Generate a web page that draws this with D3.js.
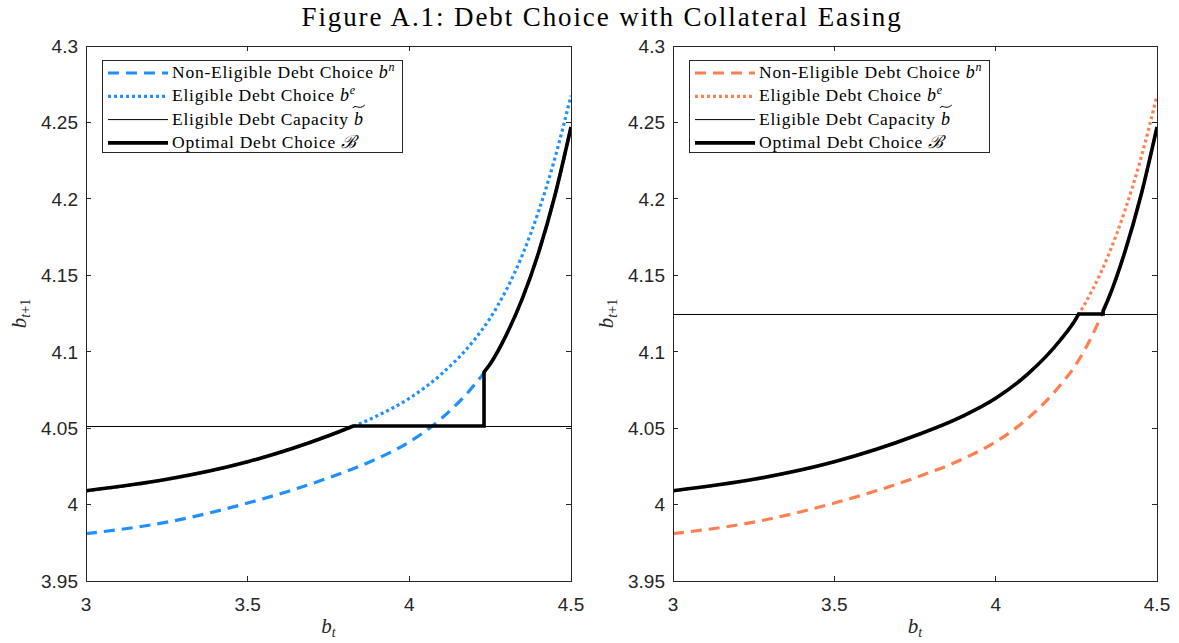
<!DOCTYPE html>
<html>
<head>
<meta charset="utf-8">
<script src="https://cdn.jsdelivr.net/npm/d3@7"></script>
<style>
  html, body { margin: 0; padding: 0; background: #fff; }
  svg { display: block; }
</style>
</head>
<body>
<svg id="fig" width="1179" height="643"></svg>
<script>
// Grid of current debt b_t and the two policy functions
const bt = [3.0, 3.25, 3.5, 3.75, 3.9, 4.0, 4.1, 4.2, 4.25, 4.3, 4.35, 4.4, 4.45, 4.5];
const eligibleChoice = [4.009, 4.0165, 4.028, 4.045, 4.058, 4.0695, 4.0855, 4.1075, 4.122, 4.1405, 4.1635, 4.192, 4.2265, 4.2675];
const nonEligibleChoice = [3.981, 3.9885, 4.001, 4.0175, 4.030, 4.041, 4.0565, 4.078, 4.092, 4.111, 4.135, 4.165, 4.202, 4.247];

// Eligible debt capacity in each panel
const capacityLeft = 4.0514;
const capacityRight = 4.1247;

// Optimal debt choice per panel
const optimalLeftX = [3.0, 3.25, 3.5, 3.75, 3.827, 4.231, 4.231, 4.25, 4.3, 4.35, 4.4, 4.45, 4.5];
const optimalLeftY = [4.009, 4.0165, 4.028, 4.045, 4.0514, 4.0514, 4.0867, 4.092, 4.111, 4.135, 4.165, 4.202, 4.247];
const optimalRightX = [3.0, 3.25, 3.5, 3.75, 3.9, 4.0, 4.1, 4.2, 4.25, 4.257, 4.333, 4.333, 4.35, 4.4, 4.45, 4.5];
const optimalRightY = [4.009, 4.0165, 4.028, 4.045, 4.058, 4.0695, 4.0855, 4.1075, 4.122, 4.1247, 4.1247, 4.1268, 4.135, 4.165, 4.202, 4.247];

// Axes ticks
const xTicks = [3, 3.5, 4, 4.5];
const xTickLabels = ["3", "3.5", "4", "4.5"];
const yTicks = [3.95, 4.0, 4.05, 4.1, 4.15, 4.2, 4.25, 4.3];
const yTickLabels = ["3.95", "4", "4.05", "4.1", "4.15", "4.2", "4.25", "4.3"];

const figureTitle = "Figure A.1: Debt Choice with Collateral Easing";
const seriesColors = { left: "#1e90ff", right: "#ff7f50" };

const svg = d3.select("#fig");
const axisColor = "#262626";
const serif = "'Liberation Serif', 'DejaVu Serif', serif";
const sans = "'Liberation Sans', Arial, sans-serif";

svg.append("text")
  .attr("x", 602).attr("y", 26)
  .attr("text-anchor", "middle")
  .attr("font-family", serif)
  .attr("font-size", 27)
  .attr("letter-spacing", 1.9)
  .attr("fill", "#000")
  .text(figureTitle);

const plotTop = 46, plotBottom = 581;
const smooth = d3.curveMonotoneX;

// Build a path that uses smooth curves on sloped runs and straight pieces on
// flat or vertical segments.
function piecewisePath(xs, ys, x, y) {
  const pts = xs.map((v, i) => [x(v), y(ys[i])]);
  const isStraight = i => xs[i] === xs[i + 1] || ys[i] === ys[i + 1];
  let d = "";
  let i = 0;
  while (i < pts.length - 1) {
    const kind = isStraight(i);
    let j = i;
    while (j < pts.length - 1 && isStraight(j) === kind) j++;
    const run = pts.slice(i, j + 1);
    const gen = d3.line().curve(kind ? d3.curveLinear : smooth);
    let s = gen(run);
    if (d !== "") s = "L" + s.slice(1);
    d += s;
    i = j;
  }
  return d;
}

function drawPanel(opt) {
  const x = d3.scaleLinear().domain([3, 4.5]).range([opt.x0, opt.x1]);
  const y = d3.scaleLinear().domain([3.95, 4.3]).range([plotBottom, plotTop]);
  const g = svg.append("g");

  const clipId = "clip-" + opt.key;
  svg.append("clipPath").attr("id", clipId)
    .append("rect").attr("x", opt.x0).attr("y", plotTop)
    .attr("width", opt.x1 - opt.x0).attr("height", plotBottom - plotTop);

  const plot = g.append("g").attr("clip-path", `url(#${clipId})`);
  const line = d3.line().x(d => x(d[0])).y(d => y(d[1])).curve(smooth);

  // Non-eligible debt choice
  plot.append("path")
    .attr("d", line(bt.map((v, i) => [v, nonEligibleChoice[i]])))
    .attr("fill", "none").attr("stroke", opt.color)
    .attr("stroke-width", 3.2).attr("stroke-dasharray", "11,7");

  // Eligible debt choice
  plot.append("path")
    .attr("d", line(bt.map((v, i) => [v, eligibleChoice[i]])))
    .attr("fill", "none").attr("stroke", opt.color)
    .attr("stroke-width", 3.2).attr("stroke-dasharray", "3,3");

  // Eligible debt capacity
  const cy = Math.round(y(opt.capacity)) + 0.5;
  plot.append("line")
    .attr("x1", x(3)).attr("x2", x(4.5))
    .attr("y1", cy).attr("y2", cy)
    .attr("stroke", "#000").attr("stroke-width", 1);

  // Optimal debt choice
  plot.append("path")
    .attr("d", piecewisePath(opt.optX, opt.optY, x, y))
    .attr("fill", "none").attr("stroke", "#000")
    .attr("stroke-width", 3.6).attr("stroke-linejoin", "miter");

  // Axes box
  g.append("rect")
    .attr("x", opt.x0).attr("y", plotTop)
    .attr("width", opt.x1 - opt.x0).attr("height", plotBottom - plotTop)
    .attr("fill", "none").attr("stroke", axisColor).attr("stroke-width", 1)
    .attr("shape-rendering", "crispEdges");

  const tickLen = 5;
  const axes = g.append("g").attr("stroke", axisColor).attr("stroke-width", 1)
    .attr("shape-rendering", "crispEdges");
  xTicks.forEach(t => {
    axes.append("line").attr("x1", x(t)).attr("x2", x(t)).attr("y1", plotBottom).attr("y2", plotBottom - tickLen);
    axes.append("line").attr("x1", x(t)).attr("x2", x(t)).attr("y1", plotTop).attr("y2", plotTop + tickLen);
  });
  yTicks.forEach(t => {
    axes.append("line").attr("x1", opt.x0).attr("x2", opt.x0 + tickLen).attr("y1", y(t)).attr("y2", y(t));
    axes.append("line").attr("x1", opt.x1).attr("x2", opt.x1 - tickLen).attr("y1", y(t)).attr("y2", y(t));
  });

  g.append("g").selectAll("text").data(xTicks).join("text")
    .attr("x", d => x(d)).attr("y", 611)
    .attr("text-anchor", "middle")
    .attr("font-family", sans).attr("font-size", 19).attr("fill", axisColor)
    .text((d, i) => xTickLabels[i]);

  g.append("g").selectAll("text").data(yTicks).join("text")
    .attr("x", opt.x0 - 8).attr("y", d => y(d))
    .attr("dy", "0.36em")
    .attr("text-anchor", "end")
    .attr("font-family", sans).attr("font-size", 19).attr("fill", axisColor)
    .text((d, i) => yTickLabels[i]);

  // Axis labels
  const xl = g.append("text")
    .attr("x", (opt.x0 + opt.x1) / 2).attr("y", 633)
    .attr("text-anchor", "middle")
    .attr("font-family", serif).attr("font-size", 21).attr("fill", axisColor);
  xl.append("tspan").attr("font-style", "italic").text("b");
  xl.append("tspan").attr("font-style", "italic").attr("font-size", 14).attr("dy", 4).text("t");

  const yl = g.append("text")
    .attr("transform", `translate(${opt.x0 - 60},${(plotTop + plotBottom) / 2}) rotate(-90)`)
    .attr("text-anchor", "middle")
    .attr("font-family", serif).attr("font-size", 21).attr("fill", axisColor);
  yl.append("tspan").attr("font-style", "italic").text("b");
  yl.append("tspan").attr("font-style", "italic").attr("font-size", 14).attr("dy", 4).text("t");
  yl.append("tspan").attr("font-size", 14).text("+1");

  // Legend
  const lx = opt.x0 + 16, ly = 60, lw = 300, lh = 92;
  const leg = g.append("g");
  leg.append("rect").attr("x", lx).attr("y", ly).attr("width", lw).attr("height", lh)
    .attr("fill", "#fff").attr("stroke", axisColor).attr("stroke-width", 1)
    .attr("shape-rendering", "crispEdges");

  const entries = [
    { text: "Non-Eligible Debt Choice ", math: "b", sup: "n", stroke: opt.color, width: 3.2, dash: "11,7" },
    { text: "Eligible Debt Choice ", math: "b", sup: "e", stroke: opt.color, width: 3.2, dash: "3,3" },
    { text: "Eligible Debt Capacity ", math: "b", tilde: true, stroke: "#000", width: 1, dash: null },
    { text: "Optimal Debt Choice ", math: "\u212C", stroke: "#000", width: 3.6, dash: null }
  ];
  entries.forEach((e, i) => {
    const rowY = ly + 13 + i * 23.3;
    leg.append("line")
      .attr("x1", lx + 6).attr("x2", lx + 66)
      .attr("y1", rowY).attr("y2", rowY)
      .attr("stroke", e.stroke).attr("stroke-width", e.width)
      .attr("stroke-dasharray", e.dash);
    const t = leg.append("text")
      .attr("x", lx + 70).attr("y", rowY + 5)
      .attr("font-family", serif).attr("font-size", 17.5)
      .attr("letter-spacing", 0.75).attr("fill", "#000");
    t.append("tspan").text(e.text);
    t.append("tspan").attr("font-style", "italic").attr("font-size", 18).text(e.math);
    if (e.sup) {
      t.append("tspan").attr("font-style", "italic").attr("font-size", 12)
        .attr("dy", -7).text(e.sup);
    }
    if (e.tilde) {
      const len = t.node().getComputedTextLength();
      const bx = lx + 70 + len - 5;
      const ty = rowY - 13;
      leg.append("path")
        .attr("d", `M${bx - 6},${ty + 1.5} C${bx - 3},${ty - 3} ${bx},${ty + 4} ${bx + 6},${ty - 1.5}`)
        .attr("fill", "none").attr("stroke", "#000").attr("stroke-width", 1);
    }
  });
}

drawPanel({ key: "left", x0: 86, x1: 571, color: seriesColors.left, capacity: capacityLeft, optX: optimalLeftX, optY: optimalLeftY });
drawPanel({ key: "right", x0: 673, x1: 1157, color: seriesColors.right, capacity: capacityRight, optX: optimalRightX, optY: optimalRightY });
</script>
</body>
</html>
